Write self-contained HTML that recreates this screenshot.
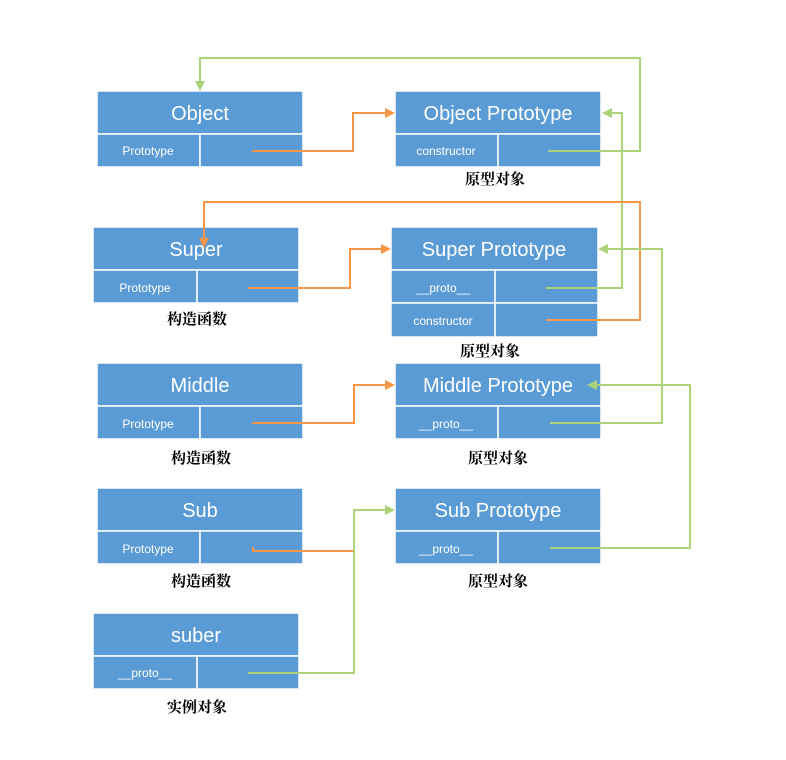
<!DOCTYPE html>
<html><head><meta charset="utf-8"><style>
html,body{margin:0;padding:0;background:#fff;}
svg{display:block;}
.h{font-family:"Liberation Sans","Noto Sans CJK SC",sans-serif;fill:#fff;font-size:20px;text-anchor:middle;}
.s{font-family:"Liberation Sans",sans-serif;fill:#fff;font-size:12px;text-anchor:middle;}
.l{font-family:"Noto Serif CJK SC","Noto Sans CJK SC",serif;fill:#000;font-size:15px;font-weight:bold;text-anchor:middle;}
</style></head><body>
<svg width="786" height="760" viewBox="0 0 786 760" xmlns="http://www.w3.org/2000/svg">
<defs>
<marker id="ao" markerWidth="10" markerHeight="10" refX="8" refY="5" orient="auto" markerUnits="userSpaceOnUse"><path d="M0,0 L10,5 L0,10 Z" fill="#f79646"/></marker>
<marker id="ag" markerWidth="10" markerHeight="10" refX="8" refY="5" orient="auto" markerUnits="userSpaceOnUse"><path d="M0,0 L10,5 L0,10 Z" fill="#acd27a"/></marker>
</defs>
<g fill="#5b9bd5" stroke="#fff" stroke-width="1.5">
<!-- Object -->
<rect x="97" y="91" width="206" height="43"/><rect x="97" y="134" width="103" height="33"/><rect x="200" y="134" width="103" height="33"/>
<rect x="395" y="91" width="206" height="43"/><rect x="395" y="134" width="103" height="33"/><rect x="498" y="134" width="103" height="33"/>
<!-- Super -->
<rect x="93" y="227" width="206" height="43"/><rect x="93" y="270" width="104" height="33"/><rect x="197" y="270" width="102" height="33"/>
<rect x="391" y="227" width="207" height="43"/><rect x="391" y="270" width="104" height="33"/><rect x="495" y="270" width="103" height="33"/>
<rect x="391" y="303" width="104" height="34"/><rect x="495" y="303" width="103" height="34"/>
<!-- Middle -->
<rect x="97" y="363" width="206" height="43"/><rect x="97" y="406" width="103" height="33"/><rect x="200" y="406" width="103" height="33"/>
<rect x="395" y="363" width="206" height="43"/><rect x="395" y="406" width="103" height="33"/><rect x="498" y="406" width="103" height="33"/>
<!-- Sub -->
<rect x="97" y="488" width="206" height="43"/><rect x="97" y="531" width="103" height="33"/><rect x="200" y="531" width="103" height="33"/>
<rect x="395" y="488" width="206" height="43"/><rect x="395" y="531" width="103" height="33"/><rect x="498" y="531" width="103" height="33"/>
<!-- suber -->
<rect x="93" y="613" width="206" height="43"/><rect x="93" y="656" width="104" height="33"/><rect x="197" y="656" width="102" height="33"/>
</g>
<text class="h" x="200" y="120">Object</text>
<text class="s" x="148" y="155">Prototype</text>
<text class="h" x="498" y="120">Object Prototype</text>
<text class="s" x="446" y="155">constructor</text>
<text class="h" x="196" y="256">Super</text>
<text class="s" x="145" y="292">Prototype</text>
<text class="h" x="494" y="256">Super Prototype</text>
<text class="s" x="443" y="292">__proto__</text>
<text class="s" x="443" y="325">constructor</text>
<text class="h" x="200" y="392">Middle</text>
<text class="s" x="148" y="428">Prototype</text>
<text class="h" x="498" y="392">Middle Prototype</text>
<text class="s" x="446" y="428">__proto__</text>
<text class="h" x="200" y="517">Sub</text>
<text class="s" x="148" y="553">Prototype</text>
<text class="h" x="498" y="517">Sub Prototype</text>
<text class="s" x="446" y="553">__proto__</text>
<text class="h" x="196" y="642">suber</text>
<text class="s" x="145" y="677">__proto__</text>
<text class="l" x="495" y="184">原型对象</text>
<text class="l" x="197" y="324">构造函数</text>
<text class="l" x="490" y="356">原型对象</text>
<text class="l" x="201" y="463">构造函数</text>
<text class="l" x="498" y="463">原型对象</text>
<text class="l" x="201" y="586">构造函数</text>
<text class="l" x="498" y="586">原型对象</text>
<text class="l" x="197" y="712">实例对象</text>
<g fill="none" stroke-width="2">
<path d="M252,151 H353 V113 H393" stroke="#f79646" marker-end="url(#ao)"/>
<path d="M548,151 H640 V58 H200 V89" stroke="#acd27a" marker-end="url(#ag)"/>
<path d="M248,288 H350 V249 H389" stroke="#f79646" marker-end="url(#ao)"/>
<path d="M546,288 H622 V113 H604" stroke="#acd27a" marker-end="url(#ag)"/>
<path d="M546,320 H640 V202 H204 V246" stroke="#f79646" marker-end="url(#ao)"/>
<path d="M252,423 H354 V385 H393" stroke="#f79646" marker-end="url(#ao)"/>
<path d="M550,423 H662 V249 H600" stroke="#acd27a" marker-end="url(#ag)"/>
<path d="M253,547 V551 H354" stroke="#f79646"/>
<path d="M550,548 H690 V385 H589" stroke="#acd27a" marker-end="url(#ag)"/>
<path d="M248,673 H354 V510 H393" stroke="#acd27a" marker-end="url(#ag)"/>
</g>
</svg>
</body></html>
